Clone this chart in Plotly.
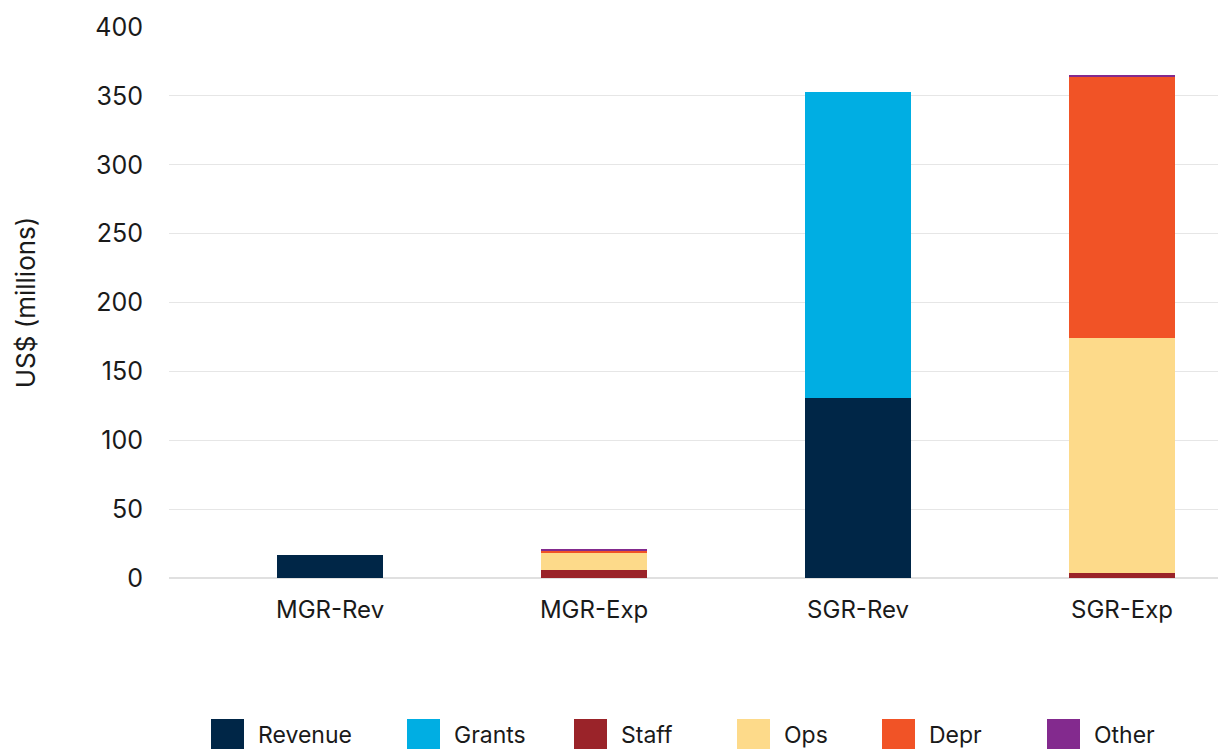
import plotly.graph_objects as go

categories = ["MGR-Rev", "MGR-Exp", "SGR-Rev", "SGR-Exp"]
series_names = ["Revenue", "Grants", "Staff", "Ops", "Depr", "Other"]
revenue = [16.7, None, 130.7, None]
grants = [None, None, 222.1, None]
staff = [None, 5.8, None, 3.4]
ops = [None, 12.8, None, 170.8]
depr = [None, 0.7, None, 189.7]
other = [None, 1.7, None, 1.3]
y_ticks = [0, 50, 100, 150, 200, 250, 300, 350, 400]

series_values = [revenue, grants, staff, ops, depr, other]
colors = ["#002647", "#00AEE3", "#9A2329", "#FDDA8A", "#F15326", "#832A8E"]

FONT = "Inter, Lato, sans-serif"
TXT = "#1a1a1a"

OFF = 8  # page body margin
W, H = 1226 - OFF, 749 - OFF
L, R, T, B = 169 - OFF, 1, 27 - OFF, 171
PW, PH = W - L - R, H - T - B

fig = go.Figure()
for name, vals, col in zip(series_names, series_values, colors):
    fig.add_trace(go.Bar(x=categories, y=vals, name=name, marker=dict(color=col, line=dict(width=0)),
                         showlegend=False))

# custom legend (large square keys); positions in page pixels
key_px = [211, 407, 574, 737, 882, 1047]
shapes = []
annotations = []
plot_left = L + OFF
plot_bottom = T + OFF + PH
for name, col, kx in zip(series_names, colors, key_px):
    shapes.append(dict(type="rect", xref="paper", yref="paper",
                       x0=(kx - plot_left) / PW, x1=(kx + 33 - plot_left) / PW,
                       y0=(plot_bottom - 755) / PH, y1=(plot_bottom - 719) / PH,
                       fillcolor=col, line=dict(width=0), layer="above"))
    annotations.append(dict(xref="paper", yref="paper", x=(kx + 45 - plot_left) / PW,
                            y=(plot_bottom - 735) / PH, text=name, showarrow=False,
                            xanchor="left", yanchor="middle",
                            font=dict(family=FONT, size=23, color=TXT)))

fig.update_layout(
    width=W, height=H,
    margin=dict(l=L, r=R, t=T, b=B),
    barmode="stack",
    bargap=0.6,
    plot_bgcolor="white", paper_bgcolor="white",
    font=dict(family=FONT, size=24, color=TXT),
    shapes=shapes,
    annotations=annotations,
    xaxis=dict(showgrid=False, showline=False, ticks="", ticklabelstandoff=15,
               range=[-0.61, 3.39],
               tickfont=dict(size=24, color=TXT)),
    yaxis=dict(range=[0, 400], tickvals=y_ticks, showgrid=True, gridcolor="#e6e6e6",
               gridwidth=1, zeroline=True, zerolinecolor="#e0e0e0", zerolinewidth=1.5,
               showline=False, ticks="", ticklabelstandoff=25,
               tickfont=dict(size=25, color=TXT),
               title=dict(text="US$ (millions)", font=dict(size=26, color=TXT), standoff=52)),
)

fig.write_html("out.html")
